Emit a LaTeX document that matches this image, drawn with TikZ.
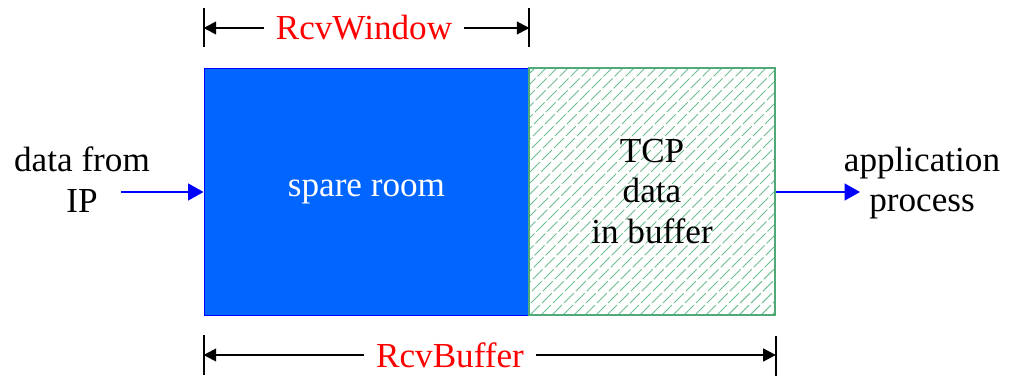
\documentclass[tikz,border=0pt]{standalone}
\usepackage{fontspec}
\setmainfont{Liberation Serif}
\usetikzlibrary{arrows.meta,positioning,calc}
\definecolor{roomblue}{RGB}{0,102,255}
\definecolor{hatchgreen}{RGB}{80,170,120}
\definecolor{hatchlight}{RGB}{110,190,145}

\begin{document}
\begin{tikzpicture}[x=0.025cm,y=0.025cm,
    lbl/.style={font=\fontsize{25}{29}\selectfont, align=center, inner sep=0pt},
    dimlbl/.style={lbl, text=red, inner xsep=0.3cm},
    feed/.style={draw=blue, line width=1.4pt, -{Triangle[length=11pt,width=12pt]}, blue},
    dimarrow/.style={line width=1.5pt, -{Triangle[length=9pt,width=9pt]}},
    tick/.style={line width=1.4pt}]
    \useasboundingbox (0,0) rectangle (1023,375);

    % buffer halves
    \node (room) [lbl, fill=roomblue, draw=blue, line width=0.6pt, text=white,
        minimum width=8.125cm, minimum height=6.175cm] at (366.5,183.5) {spare room};
    \node (buf) [lbl, draw=hatchgreen, line width=1.2pt,
        minimum width=6.15cm, minimum height=6.175cm,
        path picture={
            \foreach \k in {0,...,47}
                \draw[hatchlight, line width=0.7pt, dash pattern=on 10pt off 2pt]
                    ($(path picture bounding box.south west)+(\k*0.275cm-6.3cm,0)$) -- ++(6.6cm,6.6cm);
        }] at (652,183.5) {TCP\\data\\in buffer};

    % side labels and flows
    \node (ip) [lbl] at (82,195) {data from\\IP};
    \node (app) [lbl] at (922,192) {application\\process};
    \coordinate (in) at (121,183);
    \coordinate (out) at (860,183);
    \draw[feed] (in) -- (room.west |- in);
    \draw[feed] (buf.east |- out) -- (out);

    % RcvWindow
    \node (win) [dimlbl] at (364,347) {RcvWindow};
    \draw[tick] (room.north west) ++(0,21) -- ++(0,39);
    \draw[tick] (room.north east) ++(0,21) -- ++(0,39);
    \draw[dimarrow] (win.west) -- (room.north west |- win.west);
    \draw[dimarrow] (win.east) -- (room.north east |- win.east);

    % RcvBuffer
    \node (rcvbuf) [dimlbl] at (450,20) {RcvBuffer};
    \draw[tick] (room.south west) ++(0,-20) -- ++(0,-40);
    \draw[tick] (buf.south east) ++(0,-20) -- ++(0,-40);
    \draw[dimarrow] (rcvbuf.west) -- (room.south west |- rcvbuf.west);
    \draw[dimarrow] (rcvbuf.east) -- (buf.south east |- rcvbuf.east);
\end{tikzpicture}
\end{document}
